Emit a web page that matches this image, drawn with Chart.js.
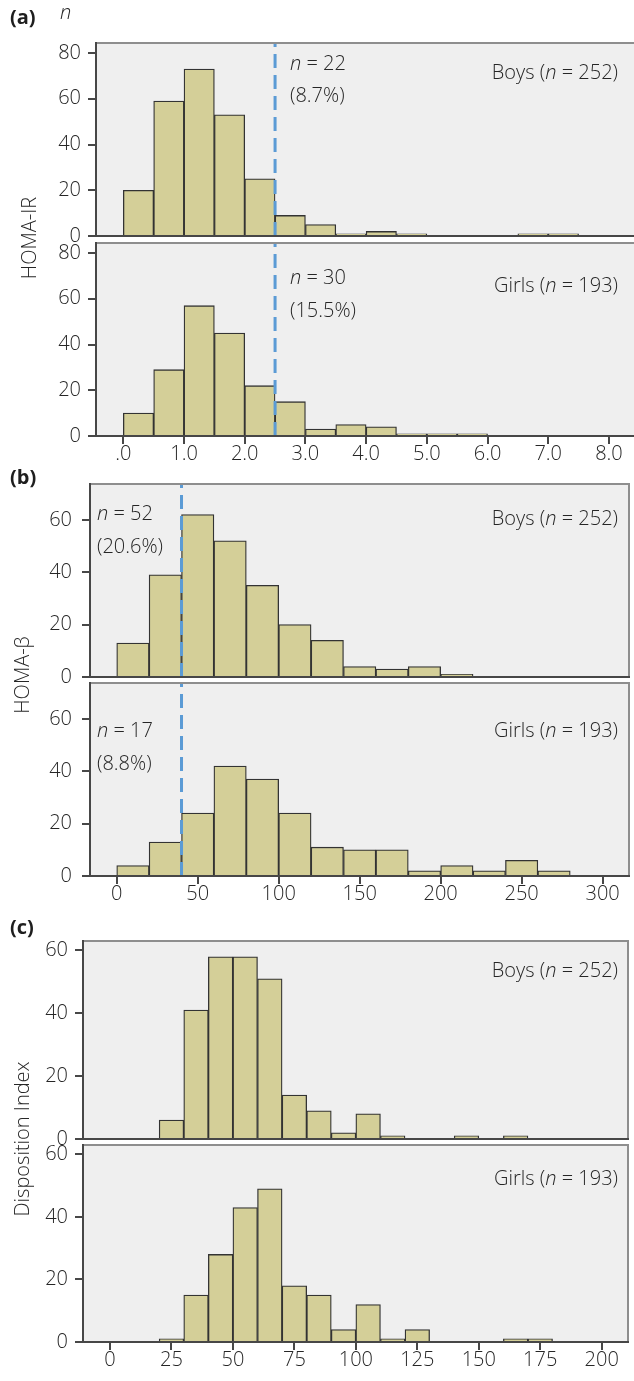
<!DOCTYPE html>
<html>
<head>
<meta charset="utf-8">
<script src="https://cdn.jsdelivr.net/npm/chart.js@4.4.1/dist/chart.umd.min.js"></script>
<style>
body { margin: 0; background: #fff; }
#page { position: relative; width: 634px; height: 1381px; overflow: hidden; font-family: "Open Sans", sans-serif; color: #262626; }
#page canvas { position: absolute; left: 0; }
.t { position: absolute; font-size: 20px; line-height: 20px; white-space: nowrap; font-weight: 300; }
.r { right: 16px; text-align: right; }
.lab { position: absolute; left: 10px; font-size: 20px; line-height: 20px; font-weight: 700; color: #1e1e1e; }
.rot { position: absolute; font-size: 20px; line-height: 20px; white-space: nowrap; font-weight: 300;
       transform: translate(-50%, -50%) rotate(-90deg); }
</style>
</head>
<body>
<div id="page">
  <canvas id="irBoysChart"></canvas>
  <canvas id="irGirlsChart"></canvas>
  <canvas id="betaBoysChart"></canvas>
  <canvas id="betaGirlsChart"></canvas>
  <canvas id="diBoysChart"></canvas>
  <canvas id="diGirlsChart"></canvas>

  <div class="lab" style="top:7px">(a)</div>
  <div class="t" style="left:60px;top:2px"><i>n</i></div>
  <div class="t" style="left:290px;top:53px"><i>n</i> = 22</div>
  <div class="t" style="left:290px;top:85px">(8.7%)</div>
  <div class="t r" style="top:62px">Boys (<i>n</i> = 252)</div>
  <div class="t" style="left:290px;top:267px"><i>n</i> = 30</div>
  <div class="t" style="left:290px;top:300px">(15.5%)</div>
  <div class="t r" style="top:275px">Girls (<i>n</i> = 193)</div>
  <div class="rot" style="left:29px;top:238px">HOMA-IR</div>

  <div class="lab" style="top:467px">(b)</div>
  <div class="t" style="left:97px;top:503px"><i>n</i> = 52</div>
  <div class="t" style="left:97px;top:536px">(20.6%)</div>
  <div class="t r" style="top:508px">Boys (<i>n</i> = 252)</div>
  <div class="t" style="left:97px;top:720px"><i>n</i> = 17</div>
  <div class="t" style="left:97px;top:753px">(8.8%)</div>
  <div class="t r" style="top:720px">Girls (<i>n</i> = 193)</div>
  <div class="rot" style="left:22px;top:675px">HOMA-β</div>

  <div class="lab" style="top:917px">(c)</div>
  <div class="t r" style="top:960px">Boys (<i>n</i> = 252)</div>
  <div class="t r" style="top:1168px">Girls (<i>n</i> = 193)</div>
  <div class="rot" style="left:22px;top:1139px">Disposition Index</div>
</div>

<script>
// (a) HOMA-IR, bins of 0.5 starting at 0
const irBinStart = 0;
const irBinWidth = 0.5;
const irBoys  = [20, 59, 73, 53, 25, 9, 5, 1, 2, 1, 0, 0, 0, 1, 1];
const irGirls = [10, 29, 57, 45, 22, 15, 3, 5, 4, 1, 1, 1];
const irCutoff = 2.5;
const irXTicks = [0, 1, 2, 3, 4, 5, 6, 7, 8];
const irXLabels = ['.0', '1.0', '2.0', '3.0', '4.0', '5.0', '6.0', '7.0', '8.0'];
const irYTicks = [0, 20, 40, 60, 80];

// (b) HOMA-beta, bins of 20 starting at 0
const betaBinStart = 0;
const betaBinWidth = 20;
const betaBoys  = [13, 39, 62, 52, 35, 20, 14, 4, 3, 4, 1];
const betaGirls = [4, 13, 24, 42, 37, 24, 11, 10, 10, 2, 4, 2, 6, 2];
const betaCutoff = 40;
const betaXTicks = [0, 50, 100, 150, 200, 250, 300];
const betaXLabels = ['0', '50', '100', '150', '200', '250', '300'];
const betaYTicks = [0, 20, 40, 60];

// (c) Disposition index, bins of 10 starting at 20
const diBinStart = 20;
const diBinWidth = 10;
const diBoys  = [6, 41, 58, 58, 51, 14, 9, 2, 8, 1, 0, 0, 1, 0, 1];
const diGirls = [1, 15, 28, 43, 49, 18, 15, 4, 12, 1, 4, 0, 0, 0, 1, 1];
const diXTicks = [0, 25, 50, 75, 100, 125, 150, 175, 200];
const diXLabels = ['0', '25', '50', '75', '100', '125', '150', '175', '200'];
const diYTicks = [0, 20, 40, 60];

const PAD = 22;
const X_AXIS_H = 38;
const TEXT = '#262626';
const AXIS = '#474747';
const FRAME_GREY = '#8e8e8e';
const PANEL_BG = '#efefef';
const BAR_FILL = '#d4cf98';
const BAR_EDGE = '#333';
const CUT_COLOR = '#5b9bd5';
const TICK_FONT = {family: 'Open Sans', size: 20, weight: 300, lineHeight: 1};

function framePlugin(rightEdge) {
    return {
        id: 'frame',
        beforeDraw(chart) {
            const a = chart.chartArea, c = chart.ctx;
            c.save();
            c.fillStyle = PANEL_BG;
            c.fillRect(a.left, a.top, a.right - a.left, a.bottom - a.top);
            c.restore();
        },
        afterDraw(chart) {
            const a = chart.chartArea, c = chart.ctx;
            c.save();
            c.lineWidth = 2;
            c.strokeStyle = FRAME_GREY;
            c.beginPath();
            c.moveTo(a.left, a.top);
            c.lineTo(a.right, a.top);
            if (rightEdge) {
                c.moveTo(a.right - 1, a.top);
                c.lineTo(a.right - 1, a.bottom);
            }
            c.stroke();
            c.strokeStyle = AXIS;
            c.beginPath();
            c.moveTo(a.left, a.top - 1);
            c.lineTo(a.left, a.bottom);
            c.lineTo(a.right, a.bottom);
            c.stroke();
            c.restore();
        }
    };
}

function createPanel(p) {
    const canvas = document.getElementById(p.id);
    const top = p.frameTop - PAD;
    const height = p.showX ? p.zero + X_AXIS_H - top : p.zero + PAD - top;
    canvas.width = 634;
    canvas.height = height;
    canvas.style.top = top + 'px';

    const bars = p.counts.map((c, i) => ({x: p.binStart + p.binWidth * (i + 0.5), y: c}));
    const datasets = [{
        type: 'bar',
        order: 1,
        data: bars,
        backgroundColor: BAR_FILL,
        borderColor: BAR_EDGE,
        borderWidth: ctx => (ctx.raw && ctx.raw.y > 0 ? 1.3 : 0),
        barPercentage: 1,
        categoryPercentage: 1
    }];
    if (p.cutoff !== undefined) {
        datasets.push({
            type: 'line',
            order: 0,
            data: [{x: p.cutoff, y: 0}, {x: p.cutoff, y: p.yMax}],
            borderColor: CUT_COLOR,
            borderWidth: 3,
            borderDash: [14, 7],
            pointRadius: 0
        });
    }

    return new Chart(canvas, {
        type: 'bar',
        data: {datasets: datasets},
        options: {
            responsive: false,
            animation: false,
            layout: {padding: {top: PAD, bottom: p.showX ? 0 : PAD, left: 0, right: p.padRight}},
            plugins: {legend: {display: false}, tooltip: {enabled: false}},
            scales: {
                x: {
                    type: 'linear',
                    offset: false,
                    min: p.xMin,
                    max: p.xMax,
                    display: p.showX,
                    afterBuildTicks: s => { s.ticks = p.xTicks.map(v => ({value: v})); },
                    afterFit: s => { if (p.showX) s.height = X_AXIS_H; },
                    grid: {offset: false, drawOnChartArea: false, drawTicks: true, tickLength: 8, color: AXIS, lineWidth: 2},
                    border: {display: false},
                    ticks: {padding: 0, color: TEXT, font: TICK_FONT, maxRotation: 0, autoSkip: false,
                            callback: (v, i) => p.xLabels[i]}
                },
                y: {
                    type: 'linear',
                    min: 0,
                    max: p.yMax,
                    afterBuildTicks: s => { s.ticks = p.yTicks.map(v => ({value: v})); },
                    afterFit: s => { s.width = p.frameLeft; },
                    grid: {drawOnChartArea: false, drawTicks: true, tickLength: 8, color: AXIS, lineWidth: 2},
                    border: {display: false},
                    ticks: {padding: p.yPad, color: TEXT, font: TICK_FONT}
                }
            }
        },
        plugins: [framePlugin(p.rightEdge)]
    });
}

const irAxes = {binStart: irBinStart, binWidth: irBinWidth, cutoff: irCutoff, frameLeft: 96, padRight: 0,
    rightEdge: false, xMin: -0.45, xMax: 8.413, yMax: 84.4, yPad: 7, xTicks: irXTicks, xLabels: irXLabels, yTicks: irYTicks};
createPanel(Object.assign({}, irAxes, {id: 'irBoysChart', counts: irBoys, frameTop: 43, zero: 236, showX: false}));
createPanel(Object.assign({}, irAxes, {id: 'irGirlsChart', counts: irGirls, frameTop: 243, zero: 436, showX: true}));

const betaAxes = {binStart: betaBinStart, binWidth: betaBinWidth, cutoff: betaCutoff, frameLeft: 90, padRight: 4,
    rightEdge: true, xMin: -16.5, xMax: 316.9, yMax: 73.7, yPad: 10, xTicks: betaXTicks, xLabels: betaXLabels, yTicks: betaYTicks};
createPanel(Object.assign({}, betaAxes, {id: 'betaBoysChart', counts: betaBoys, frameTop: 484, zero: 677, showX: false}));
createPanel(Object.assign({}, betaAxes, {id: 'betaGirlsChart', counts: betaGirls, frameTop: 683, zero: 876, showX: true}));

const diAxes = {binStart: diBinStart, binWidth: diBinWidth, frameLeft: 83, padRight: 5,
    rightEdge: true, xMin: -10.98, xMax: 211.1, yMax: 63, yPad: 7, xTicks: diXTicks, xLabels: diXLabels, yTicks: diYTicks};
createPanel(Object.assign({}, diAxes, {id: 'diBoysChart', counts: diBoys, frameTop: 941, zero: 1139, showX: false}));
createPanel(Object.assign({}, diAxes, {id: 'diGirlsChart', counts: diGirls, frameTop: 1145, zero: 1342, showX: true}));
</script>
</body>
</html>
